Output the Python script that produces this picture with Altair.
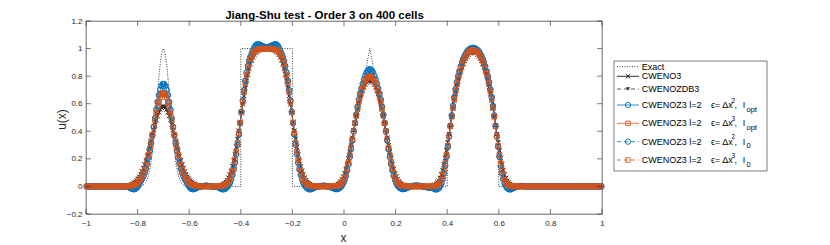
import altair as alt
import pandas as pd

FONT = "Liberation Sans"
INK = "#262626"
BLUE = "#0072BD"
RED = "#D95319"

# ---------------- data ----------------
title_text = "Jiang-Shu test - Order 3 on 400 cells"
x_ticks = [-1.0, -0.8, -0.6, -0.4, -0.2, 0.0, 0.2, 0.4, 0.6, 0.8, 1.0]
y_ticks = [-0.2, 0.0, 0.2, 0.4, 0.6, 0.8, 1.0, 1.2]

n_cells = 400
cell_x = [round(-1.0 + (i + 0.5) * (2.0 / n_cells), 4) for i in range(n_cells)]

exact_x = [-1.0, -0.8, -0.79, -0.78, -0.77, -0.76, -0.75, -0.74, -0.735, -0.73, -0.725, -0.72, -0.715, -0.71, -0.705,
           -0.7, -0.695, -0.69, -0.685, -0.68, -0.675, -0.67, -0.665, -0.66, -0.65, -0.64, -0.63, -0.62, -0.61, -0.6,
           -0.4, -0.4, -0.2, -0.2,
           0.0, 0.1, 0.2,
           0.4, 0.401, 0.405, 0.41, 0.42, 0.43, 0.44, 0.45, 0.46, 0.47, 0.48, 0.49, 0.5, 0.51, 0.52, 0.53, 0.54, 0.55,
           0.56, 0.57, 0.58, 0.59, 0.595, 0.599, 0.6,
           1.0]
exact_u = [0.0, 0.0, 0.002, 0.007, 0.023, 0.063, 0.146, 0.292, 0.389, 0.5, 0.618, 0.735, 0.841, 0.926, 0.981,
           1.0, 0.981, 0.926, 0.841, 0.735, 0.618, 0.5, 0.389, 0.292, 0.146, 0.063, 0.023, 0.007, 0.002, 0.0,
           0.0, 1.0, 1.0, 0.0,
           0.0, 1.0, 0.0,
           0.0, 0.141, 0.312, 0.436, 0.6, 0.714, 0.8, 0.866, 0.917, 0.954, 0.98, 0.995, 1.0, 0.995, 0.98, 0.954,
           0.917, 0.866, 0.8, 0.714, 0.6, 0.436, 0.312, 0.141, 0.0,
           0.0]

# CWENO3 (black) – region by region, cell by cell
cweno3_gauss_l = [0.002, 0.003, 0.005, 0.008, 0.010, 0.014, 0.019, 0.026, 0.033, 0.043, 0.056, 0.070, 0.088, 0.108, 0.131,
                  0.158, 0.188, 0.221, 0.256, 0.294, 0.332, 0.371, 0.410, 0.447, 0.481, 0.512, 0.538, 0.558, 0.572, 0.579]
cweno3_gauss_r = [0.579, 0.572, 0.558, 0.538, 0.512, 0.481, 0.447, 0.410, 0.371, 0.332, 0.294, 0.256, 0.221, 0.188, 0.158,
                  0.131, 0.108, 0.088, 0.070, 0.056, 0.043, 0.033, 0.026, 0.019, 0.014, 0.010, 0.008, 0.005, 0.003, 0.002]
cweno3_square = [0.001, 0.001, 0.002, 0.004, 0.006, 0.010, 0.015, 0.022, 0.032, 0.045, 0.063, 0.085, 0.113, 0.147, 0.188,
                 0.234, 0.286, 0.343, 0.404, 0.468,
                 0.532, 0.596, 0.657, 0.714, 0.766, 0.812, 0.853, 0.887, 0.915, 0.937, 0.955, 0.968, 0.978, 0.985, 0.990,
                 0.994, 0.996, 0.998, 0.998, 0.999,
                 0.999, 0.998, 0.998, 0.996, 0.994, 0.990, 0.985, 0.978, 0.968, 0.955, 0.937, 0.915, 0.887, 0.853, 0.812,
                 0.766, 0.714, 0.657, 0.596, 0.532,
                 0.468, 0.404, 0.343, 0.286, 0.234, 0.188, 0.147, 0.113, 0.085, 0.063, 0.045, 0.032, 0.022, 0.015, 0.010,
                 0.006, 0.004, 0.002, 0.001, 0.001]
cweno3_tri_l = [0.001, 0.003, 0.005, 0.008, 0.011, 0.017, 0.025, 0.036, 0.051, 0.071, 0.094, 0.125, 0.161, 0.203, 0.249,
                0.298, 0.353, 0.407, 0.460, 0.510, 0.558, 0.604, 0.641, 0.671, 0.697, 0.720, 0.739, 0.754, 0.764, 0.769]
cweno3_tri_r = [0.769, 0.764, 0.754, 0.739, 0.720, 0.697, 0.671, 0.641, 0.604, 0.558, 0.510, 0.460, 0.407, 0.353, 0.298,
                0.249, 0.203, 0.161, 0.125, 0.094, 0.071, 0.051, 0.036, 0.025, 0.017, 0.011, 0.008, 0.005, 0.003, 0.001]
cweno3_ell_l = [0.004, 0.007, 0.011, 0.018, 0.028, 0.041, 0.061, 0.087, 0.119, 0.159, 0.207, 0.261, 0.319, 0.379, 0.442,
                0.505, 0.565, 0.622, 0.675, 0.722, 0.765, 0.802, 0.836, 0.866, 0.891, 0.911, 0.928, 0.944, 0.956, 0.966,
                0.972, 0.975]
cweno3_ell_r = [0.975, 0.972, 0.966, 0.956, 0.944, 0.928, 0.911, 0.891, 0.866, 0.836, 0.802, 0.765, 0.722, 0.675, 0.622,
                0.565, 0.505, 0.442, 0.379, 0.319, 0.261, 0.207, 0.159, 0.119, 0.087, 0.061, 0.041, 0.028, 0.018, 0.011,
                0.007, 0.004]
cweno3_tail = [0.002, 0.001]

# CWENOZ3 l=2, eps = dx^2 (blue)
z2_gauss_l = [0.0, -0.001, -0.003, -0.007, -0.012, -0.017, -0.020, -0.020, -0.016, -0.008, 0.005, 0.020, 0.039, 0.054,
              0.073, 0.098, 0.128, 0.165, 0.208, 0.257, 0.312, 0.371, 0.433, 0.495, 0.557, 0.613, 0.662, 0.701, 0.729,
              0.743]
z2_gauss_r = [0.743, 0.729, 0.701, 0.662, 0.613, 0.557, 0.495, 0.433, 0.371, 0.312, 0.257, 0.208, 0.165, 0.128, 0.098,
              0.073, 0.054, 0.039, 0.020, 0.005, -0.008, -0.016, -0.020, -0.020, -0.017, -0.012, -0.007, -0.003, -0.001,
              0.0]
z2_gap1 = [0.002, 0.004, 0.005, 0.005, 0.004, 0.003, 0.001, 0.0, -0.001, -0.002]
z2_square = [-0.002, -0.004, -0.007, -0.011, -0.016, -0.020, -0.021, -0.019, -0.013, -0.004, 0.009, 0.026, 0.050, 0.082,
             0.122, 0.172, 0.233, 0.301, 0.377, 0.459,
             0.541, 0.623, 0.699, 0.767, 0.826, 0.874, 0.912, 0.941, 0.966, 0.988, 1.008, 1.022, 1.030, 1.031, 1.028,
             1.024, 1.019, 1.015, 1.012, 1.010,
             1.010, 1.012, 1.015, 1.019, 1.024, 1.028, 1.031, 1.030, 1.022, 1.008, 0.988, 0.966, 0.941, 0.912, 0.874,
             0.826, 0.767, 0.699, 0.623, 0.541,
             0.459, 0.377, 0.301, 0.233, 0.172, 0.122, 0.082, 0.050, 0.026, 0.009, -0.004, -0.013, -0.019, -0.021,
             -0.020, -0.016, -0.011, -0.007, -0.004, -0.002]
z2_gap2 = [0.0, 0.002, 0.004, 0.005, 0.005, 0.004, 0.002, 0.0, -0.003, -0.006]
z2_tri_l = [-0.008, -0.012, -0.016, -0.019, -0.020, -0.017, -0.012, -0.004, 0.008, 0.025, 0.048, 0.077, 0.116, 0.161,
            0.213, 0.270, 0.333, 0.398, 0.461, 0.521, 0.578, 0.630, 0.675, 0.712, 0.746, 0.777, 0.803, 0.826, 0.841,
            0.849]
z2_tri_r = [0.849, 0.841, 0.826, 0.803, 0.777, 0.746, 0.712, 0.675, 0.630, 0.578, 0.521, 0.461, 0.398, 0.333, 0.270,
            0.213, 0.161, 0.116, 0.077, 0.048, 0.025, 0.008, -0.004, -0.012, -0.017, -0.020, -0.019, -0.016, -0.012,
            -0.008]
z2_gap3 = [-0.004, -0.001, 0.002, 0.004, 0.005, 0.006, 0.006, 0.005, 0.004, 0.003, 0.001, -0.001, -0.003, -0.005,
           -0.007, -0.008, -0.009, -0.010]
z2_ell_l = [-0.010, -0.015, -0.020, -0.022, -0.019, -0.012, 0.002, 0.022, 0.052, 0.095, 0.150, 0.215, 0.287, 0.362,
            0.439, 0.515, 0.584, 0.648, 0.706, 0.756, 0.800, 0.837, 0.871, 0.901, 0.926, 0.947, 0.964, 0.979, 0.990,
            0.997, 1.002, 1.005]
z2_ell_r = [1.005, 1.002, 0.997, 0.990, 0.979, 0.964, 0.947, 0.926, 0.901, 0.871, 0.837, 0.800, 0.756, 0.706, 0.648,
            0.584, 0.515, 0.439, 0.362, 0.287, 0.215, 0.150, 0.095, 0.052, 0.022, 0.002, -0.012, -0.019, -0.022, -0.020,
            -0.015, -0.010]
z2_tail = [-0.006, -0.003, -0.001, 0.001, 0.002, 0.003, 0.003, 0.002, 0.001]

# CWENOZ3 l=2, eps = dx^3 (red)
z3_gauss_l = [0.0, 0.0, 0.001, 0.002, 0.003, 0.005, 0.007, 0.011, 0.015, 0.021, 0.030, 0.041, 0.055, 0.073, 0.095,
              0.121, 0.152, 0.188, 0.230, 0.275, 0.324, 0.376, 0.428, 0.481, 0.530, 0.576, 0.615, 0.646, 0.667, 0.679]
z3_gauss_r = [0.679, 0.667, 0.646, 0.615, 0.576, 0.530, 0.481, 0.428, 0.376, 0.324, 0.275, 0.230, 0.188, 0.152, 0.121,
              0.095, 0.073, 0.055, 0.041, 0.030, 0.021, 0.015, 0.011, 0.007, 0.005, 0.003, 0.002, 0.001, 0.0, 0.0]
z3_square = [0.0, 0.0, 0.0, 0.0, 0.001, 0.003, 0.005, 0.008, 0.013, 0.022, 0.034, 0.051, 0.075, 0.106, 0.145, 0.193,
             0.250, 0.315, 0.387, 0.462,
             0.538, 0.613, 0.685, 0.750, 0.807, 0.855, 0.894, 0.925, 0.949, 0.966, 0.978, 0.987, 0.992, 0.995, 0.997,
             0.999, 1.0, 1.0, 1.0, 1.0,
             1.0, 1.0, 1.0, 1.0, 0.999, 0.997, 0.995, 0.992, 0.987, 0.978, 0.966, 0.949, 0.925, 0.894, 0.855, 0.807,
             0.750, 0.685, 0.613, 0.538,
             0.462, 0.387, 0.315, 0.250, 0.193, 0.145, 0.106, 0.075, 0.051, 0.034, 0.022, 0.013, 0.008, 0.005, 0.003,
             0.001, 0.0, 0.0, 0.0, 0.0]
z3_tri_l = [0.0, 0.0, 0.001, 0.002, 0.003, 0.006, 0.010, 0.016, 0.027, 0.042, 0.063, 0.093, 0.132, 0.177, 0.227, 0.282,
            0.340, 0.400, 0.458, 0.513, 0.565, 0.615, 0.657, 0.689, 0.718, 0.744, 0.765, 0.783, 0.794, 0.799]
z3_tri_r = [0.799, 0.794, 0.783, 0.765, 0.744, 0.718, 0.689, 0.657, 0.615, 0.565, 0.513, 0.458, 0.400, 0.340, 0.282,
            0.227, 0.177, 0.132, 0.093, 0.063, 0.042, 0.027, 0.016, 0.010, 0.006, 0.003, 0.002, 0.001, 0.0, 0.0]
z3_ell_l = [0.0, 0.001, 0.002, 0.004, 0.008, 0.016, 0.029, 0.048, 0.077, 0.117, 0.168, 0.228, 0.295, 0.365, 0.436, 0.506,
            0.572, 0.635, 0.691, 0.741, 0.785, 0.822, 0.856, 0.886, 0.911, 0.931, 0.948, 0.963, 0.974, 0.981, 0.987,
            0.990]
z3_ell_r = [0.990, 0.987, 0.981, 0.974, 0.963, 0.948, 0.931, 0.911, 0.886, 0.856, 0.822, 0.785, 0.741, 0.691, 0.635,
            0.572, 0.506, 0.436, 0.365, 0.295, 0.228, 0.168, 0.117, 0.077, 0.048, 0.029, 0.016, 0.008, 0.004, 0.002,
            0.001, 0.0]

cweno3_u = ([0.0] * 30 + cweno3_gauss_l + cweno3_gauss_r + [0.0] * 10 + cweno3_square + [0.0] * 10
            + cweno3_tri_l + cweno3_tri_r + [0.0] * 18 + cweno3_ell_l + cweno3_ell_r + cweno3_tail + [0.0] * 66)
cwenozdb3_u = list(cweno3_u)  # drawn on top of CWENO3 in the reference
z2_opt_u = ([0.0] * 30 + z2_gauss_l + z2_gauss_r + z2_gap1 + z2_square + z2_gap2 + z2_tri_l + z2_tri_r + z2_gap3
            + z2_ell_l + z2_ell_r + z2_tail + [0.0] * 59)
z3_opt_u = ([0.0] * 30 + z3_gauss_l + z3_gauss_r + [0.0] * 10 + z3_square + [0.0] * 10 + z3_tri_l + z3_tri_r
            + [0.0] * 18 + z3_ell_l + z3_ell_r + [0.0] * 68)
z2_i0_u = list(z2_opt_u)
z3_i0_u = list(z3_opt_u)

for arr in (cweno3_u, z2_opt_u, z3_opt_u):
    assert len(arr) == n_cells, len(arr)
assert len(exact_x) == len(exact_u)

# ---------------- encodings ----------------
W, H = 516, 193

X = alt.X("x:Q", scale=alt.Scale(domain=[-1, 1], nice=False, zero=False),
          axis=alt.Axis(values=x_ticks, format="~g", ticks=False, tickSize=0, domain=False, grid=False,
                        labelFont=FONT, labelFontSize=8, labelColor=INK, labelPadding=5, labelFlush=False,
                        labelOverlap=False, title="x", titleFont=FONT, titleFontSize=12, titleFontWeight="normal",
                        titleColor=INK, titleX=257, titleY=23, titleBaseline="middle", titleAlign="center"))
Y = alt.Y("u:Q", scale=alt.Scale(domain=[-0.2, 1.2], nice=False, zero=False),
          axis=alt.Axis(values=y_ticks, format="~g", ticks=False, tickSize=0, domain=False, grid=False,
                        labelFont=FONT, labelFontSize=8, labelColor=INK, labelPadding=4, labelFlush=False,
                        labelOverlap=False, title="u(x)", titleFont=FONT, titleFontSize=12, titleFontWeight="normal",
                        titleColor=INK, titleX=-25, titleY=98, titleAngle=270, titleBaseline="middle",
                        titleAlign="center"))

X_PATH = "M -1 -1 L 1 1 M -1 1 L 1 -1"

series = [
    dict(name="CWENO3", u=cweno3_u, color="#000000", dash=None, shape=X_PATH, size=20, filled=False),
    dict(name="CWENOZDB3", u=cwenozdb3_u, color="#333333", dash=[4, 3], shape="triangle-down", size=18, filled=True),
    dict(name="CWENOZ3 l=2 e=dx2 Iopt", u=z2_opt_u, color=BLUE, dash=None, shape="circle", size=28, filled=False),
    dict(name="CWENOZ3 l=2 e=dx3 Iopt", u=z3_opt_u, color=RED, dash=None, shape="square", size=20, filled=False),
    dict(name="CWENOZ3 l=2 e=dx2 I0", u=z2_i0_u, color=BLUE, dash=[4, 3], shape="circle", size=28, filled=False),
    dict(name="CWENOZ3 l=2 e=dx3 I0", u=z3_i0_u, color=RED, dash=[4, 3], shape="square", size=20, filled=False),
]

layers = []
exact_df = pd.DataFrame({"x": exact_x, "u": exact_u, "k": list(range(len(exact_x)))})
layers.append(alt.Chart(exact_df).mark_line(color="#000000", strokeWidth=0.8, strokeDash=[1, 1.5]).encode(
    x=X, y=Y, order="k:Q"))


def point_kw(s):
    kw = dict(shape=s["shape"], size=s["size"], color=s["color"], filled=s["filled"], opacity=1)
    if not s["filled"]:
        kw["strokeWidth"] = 0.9
    return kw


for s in series:
    df = pd.DataFrame({"x": cell_x, "u": s["u"]})
    line_kw = dict(color=s["color"], strokeWidth=0.8)
    if s["dash"]:
        line_kw["strokeDash"] = s["dash"]
    layers.append(alt.Chart(df).mark_line(**line_kw).encode(x=X, y=Y))
    layers.append(alt.Chart(df).mark_point(**point_kw(s)).encode(x=X, y=Y))

# inward tick marks on all four sides
xt = pd.DataFrame({"x": x_ticks})
yt = pd.DataFrame({"u": y_ticks})
tk = dict(color=INK, strokeWidth=0.6)
layers.append(alt.Chart(xt).mark_rule(**tk).encode(x=X, y=alt.value(H), y2=alt.value(H - 5)))
layers.append(alt.Chart(xt).mark_rule(**tk).encode(x=X, y=alt.value(0), y2=alt.value(5)))
layers.append(alt.Chart(yt).mark_rule(**tk).encode(y=Y, x=alt.value(0), x2=alt.value(5)))
layers.append(alt.Chart(yt).mark_rule(**tk).encode(y=Y, x=alt.value(W), x2=alt.value(W - 5)))

one = pd.DataFrame({"k": [0]})

# chart title (drawn as text just above the axes box)
layers.append(alt.Chart(one).mark_text(text=title_text, align="center", baseline="alphabetic", font=FONT,
                                       fontSize=11.5, fontWeight="bold", color="#000000").encode(
    x=alt.value(238.5), y=alt.value(-2.5)))

# ---------------- legend (drawn by hand, right of the axes) ----------------
LX0, LX1, LY0, LY1 = 528, 681, 40, 150
layers.append(alt.Chart(one).mark_rect(fill="white", stroke=INK, strokeWidth=0.6).encode(
    x=alt.value(LX0), x2=alt.value(LX1), y=alt.value(LY0), y2=alt.value(LY1)))

rows_y = [45.7, 55.3, 68.0, 84.0, 102.3, 120.7, 139.0]
SX0, SX1, SXM, TX = 531, 553, 542, 555.7


def txt(s, x, y, size=9):
    return alt.Chart(one).mark_text(text=s, align="left", baseline="middle", font=FONT, fontSize=size,
                                    color="#000000").encode(x=alt.value(x), y=alt.value(y))


# Exact
layers.append(alt.Chart(one).mark_rule(color="#000000", strokeWidth=0.8, strokeDash=[1, 1.5]).encode(
    x=alt.value(SX0), x2=alt.value(SX1), y=alt.value(rows_y[0])))
layers.append(txt("Exact", TX, rows_y[0]))

legend_text = ["CWENO3", "CWENOZDB3", "CWENOZ3 l=2", "CWENOZ3 l=2", "CWENOZ3 l=2", "CWENOZ3 l=2"]
sups = [None, None, "2", "3", "2", "3"]
subs = [None, None, "opt", "opt", "0", "0"]
for j, s in enumerate(series):
    ry = rows_y[j + 1]
    rk = dict(color=s["color"], strokeWidth=0.8)
    if s["dash"]:
        rk["strokeDash"] = s["dash"]
    layers.append(alt.Chart(one).mark_rule(**rk).encode(x=alt.value(SX0), x2=alt.value(SX1), y=alt.value(ry)))
    layers.append(alt.Chart(one).mark_point(**point_kw(s)).encode(x=alt.value(SXM), y=alt.value(ry)))
    layers.append(txt(legend_text[j], TX, ry))
    if sups[j]:
        layers.append(txt("\u03f5= \u0394x", 625, ry))
        layers.append(txt(sups[j], 645.5, ry - 4.5, 6.5))
        layers.append(txt(",", 648.5, ry))
        layers.append(txt("I", 656.7, ry))
        layers.append(txt(subs[j], 660.5, ry + 4.5, 7.5))

chart = alt.layer(*layers).properties(
    width=W, height=H,
    autosize=alt.AutoSizeParams(type="none"),
    padding={"left": 78, "top": 13, "right": 190, "bottom": 31},
).configure_view(stroke=INK, strokeWidth=0.7)

chart.save("out.html", embed_options={"renderer": "svg", "actions": False})
